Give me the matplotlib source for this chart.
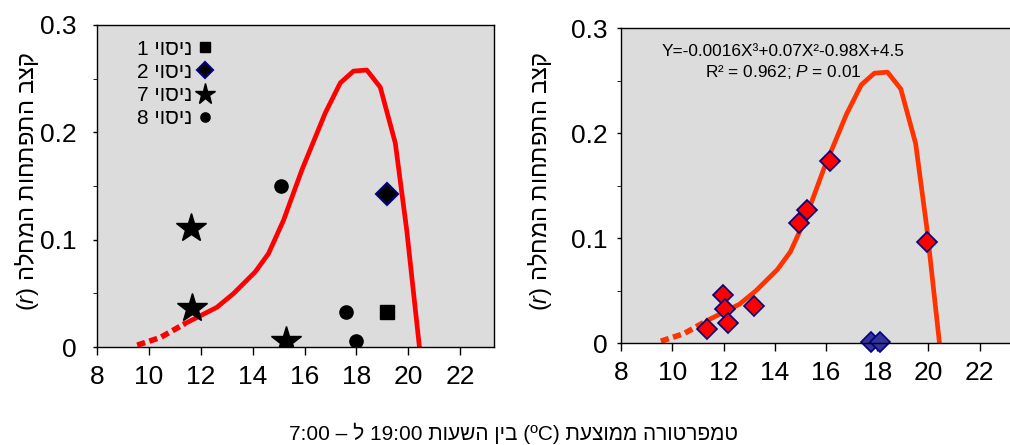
import matplotlib
matplotlib.use("Agg")
import matplotlib.pyplot as plt
from matplotlib.ticker import MultipleLocator

plt.rcParams['font.family'] = ['Liberation Sans', 'DejaVu Sans']
plt.rcParams['mathtext.fontset'] = 'custom'
plt.rcParams['mathtext.it'] = 'Liberation Sans:italic'
plt.rcParams['mathtext.rm'] = 'Liberation Sans'


def heb(s):
    # matplotlib non gestisce il testo da destra a sinistra: ordine visivo a mano
    out = []
    for w in reversed(s.split(' ')):
        if any('\u0590' <= c <= '\u05ff' for c in w):
            w = w[::-1]
        out.append(w)
    return ' '.join(out)


# curva del modello
dotted_temp = [9.55, 10.45, 11.4]
dotted_rate = [0.0018, 0.009, 0.022]
curve_temp = [11.4, 12.62, 13.27, 14.1, 14.61, 15.19, 15.9, 16.8, 17.38, 17.89, 18.4, 18.92, 19.5, 19.94, 20.43]
curve_rate = [0.022, 0.037, 0.050, 0.070, 0.087, 0.118, 0.165, 0.218, 0.246, 0.257, 0.258, 0.242, 0.190, 0.109, 0.0]

# pannello sinistro: prove separate
trial1_temp = [19.17]
trial1_rate = [0.0327]
trial2_temp = [19.17]
trial2_rate = [0.1425]
trial7_temp = [11.62, 11.66, 15.28]
trial7_rate = [0.111, 0.036, 0.0056]
trial8_temp = [15.1, 17.6, 17.98]
trial8_rate = [0.150, 0.0327, 0.0056]

# pannello destro
red_temp = [11.36, 11.98, 12.07, 12.16, 13.18, 14.94, 15.26, 16.16, 19.96]
red_rate = [0.0133, 0.046, 0.032, 0.0196, 0.035, 0.114, 0.127, 0.173, 0.0966]
blue_temp = [17.76, 18.1]
blue_rate = [0.001, 0.001]

xticks = [8, 10, 12, 14, 16, 18, 20, 22]
yticks = [0, 0.1, 0.2, 0.3]
ytick_labels = ['0', '0.1', '0.2', '0.3']

ylabel_txt = heb('קצב התפתחות המחלה ($\\it{r}$)')
xlabel_txt = heb('טמפרטורה ממוצעת (ºC) בין השעות 19:00 ל – 7:00')
trial_name = 'ניסוי'

fig = plt.figure(figsize=(10.1, 4.45), dpi=100)
ax1 = fig.add_axes([0.096, 0.220, 0.393, 0.724])
ax2 = fig.add_axes([0.615, 0.229, 0.392, 0.708])


def style(ax, xmax, ypad):
    ax.set_facecolor('#dcdcdc')
    ax.set_xlim(8, xmax)
    ax.set_ylim(0, 0.3)
    ax.set_xticks(xticks)
    ax.set_yticks(yticks)
    ax.set_yticklabels(ytick_labels)
    ax.yaxis.set_minor_locator(MultipleLocator(0.05))
    ax.tick_params(labelsize=19, width=1, direction='out')
    ax.tick_params(axis='x', length=6, pad=7)
    ax.tick_params(axis='y', which='both', length=3, pad=ypad)
    for s in ax.spines.values():
        s.set_linewidth(1)


style(ax1, 23.3, 12)
ax1.plot(dotted_temp, dotted_rate, color='#ff0000', lw=4, dashes=(1.5, 0.8), solid_capstyle='butt')
ax1.plot(curve_temp, curve_rate, color='#ff0000', lw=3.4)
ax1.plot(trial1_temp, trial1_rate, 's', color='black', ms=10, label=heb(trial_name + ' 1'))
ax1.plot(trial2_temp, trial2_rate, 'D', mfc='black', mec='#000080', mew=1.5, ms=11.5, label=heb(trial_name + ' 2'))
ax1.plot(trial7_temp, trial7_rate, '*', color='black', ms=22, label=heb(trial_name + ' 7'))
ax1.plot(trial8_temp, trial8_rate, 'o', color='black', ms=9.5, label=heb(trial_name + ' 8'))
ax1.legend(loc='upper left', bbox_to_anchor=(0.065, 1.0), frameon=False, markerfirst=False,
           fontsize=15, handlelength=0.9, handletextpad=0.15, labelspacing=0.2, borderaxespad=0.3,
           markerscale=0.7)
fig.text(0.027, 0.593, ylabel_txt, rotation=90, ha='center', va='center', fontsize=17)

style(ax2, 23.46, 7)
ax2.spines['right'].set_visible(False)
ax2.plot(dotted_temp, dotted_rate, color='#ff3300', lw=4, dashes=(1.5, 0.8), solid_capstyle='butt')
ax2.plot(curve_temp, curve_rate, color='#ff3300', lw=3.4)
ax2.plot(red_temp, red_rate, 'D', mfc='#ff0000', mec='#000080', mew=1.2, ms=10.5, ls='none')
ax2.plot(blue_temp, blue_rate, 'D', mfc='#333399', mec='#000080', mew=1.2, ms=10.5, ls='none', clip_on=False)
ax2.text(0.409, 0.924, 'Y=-0.0016X³+0.07X²-0.98X+4.5', transform=ax2.transAxes,
         ha='center', va='center', fontsize=12.4)
ax2.text(0.409, 0.862, 'R² = 0.962; $\\it{P}$ = 0.01', transform=ax2.transAxes,
         ha='center', va='center', fontsize=12.4)
fig.text(0.535, 0.593, ylabel_txt, rotation=90, ha='center', va='center', fontsize=17)

fig.text(0.508, 0.025, xlabel_txt, ha='center', va='center', fontsize=15)

fig.savefig('out.png', dpi=100)
